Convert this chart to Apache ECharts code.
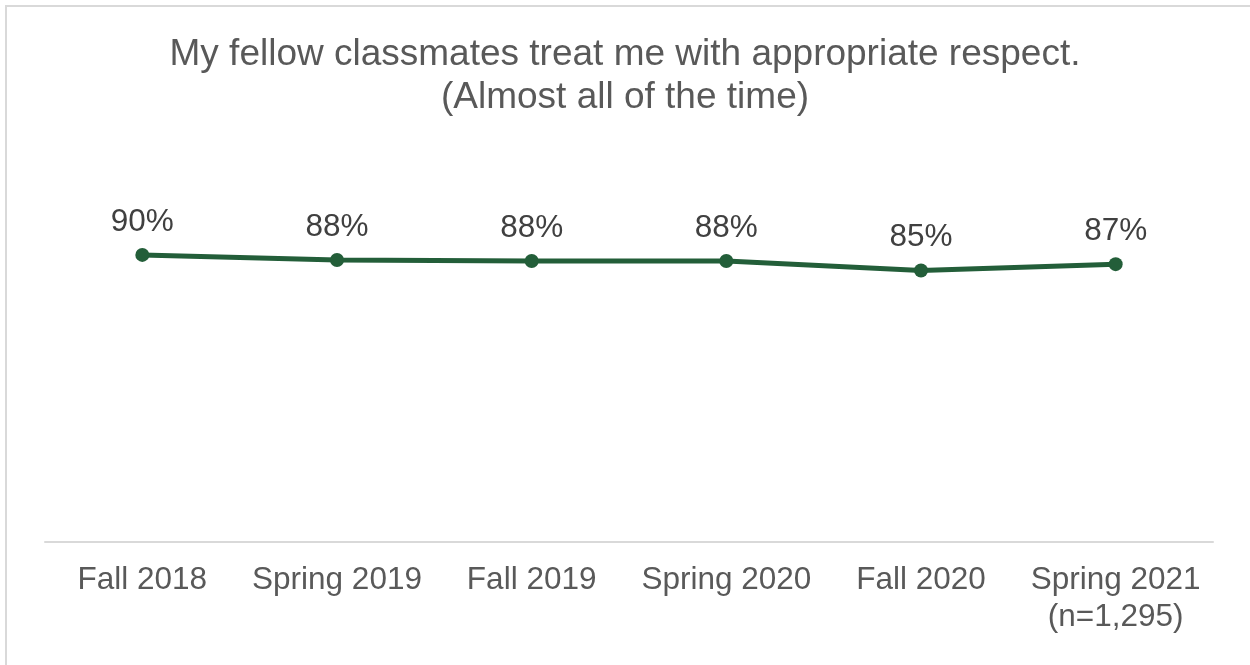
<!DOCTYPE html>
<html>
<head>
<meta charset="utf-8">
<script src="https://cdn.jsdelivr.net/npm/echarts@6/dist/echarts.min.js"></script>
<style>
html,body{margin:0;padding:0;background:#fff;}
#chart{width:1250px;height:665px;}
</style>
</head>
<body>
<div id="chart"></div>
<script>
const titleText = "My fellow classmates treat me with appropriate respect.\n(Almost all of the time)";
const categories = ["Fall 2018", "Spring 2019", "Fall 2019", "Spring 2020", "Fall 2020", "Spring 2021\n(n=1,295)"];
const values = [90.0, 88.4, 88.1, 88.1, 85.1, 87.1];

const chart = echarts.init(document.getElementById('chart'), null, {renderer: 'canvas'});
const FONT = "'Liberation Sans', Arial, sans-serif";
chart.setOption({
  backgroundColor: '#ffffff',
  animation: false,
  graphic: [{
    type: 'rect',
    shape: {x: 6, y: 6, width: 1270, height: 690},
    style: {fill: 'none', stroke: '#D9D9D9', lineWidth: 2},
    silent: true
  }],
  title: {
    text: titleText,
    left: 'center',
    top: 28,
    textStyle: {fontFamily: FONT, fontSize: 37, fontWeight: 'normal', color: '#595959', lineHeight: 43}
  },
  grid: {left: 45, right: 37, top: 223, bottom: 123},
  xAxis: {
    type: 'category',
    data: categories,
    boundaryGap: true,
    axisLine: {show: true, lineStyle: {color: '#D9D9D9', width: 2}},
    axisTick: {show: false},
    axisLabel: {fontFamily: FONT, fontSize: 31.5, color: '#595959', margin: 20, lineHeight: 37, interval: 0}
  },
  yAxis: {
    type: 'value',
    min: 0,
    max: 100,
    show: false,
    splitLine: {show: false}
  },
  series: [{
    type: 'line',
    data: values,
    symbol: 'circle',
    symbolSize: 14,
    itemStyle: {color: '#235E39'},
    lineStyle: {color: '#235E39', width: 5},
    label: {
      show: true,
      position: 'top',
      distance: 10,
      fontFamily: FONT,
      fontSize: 31.5,
      color: '#404040',
      formatter: p => Math.round(p.value) + '%'
    }
  }]
});
</script>
</body>
</html>
